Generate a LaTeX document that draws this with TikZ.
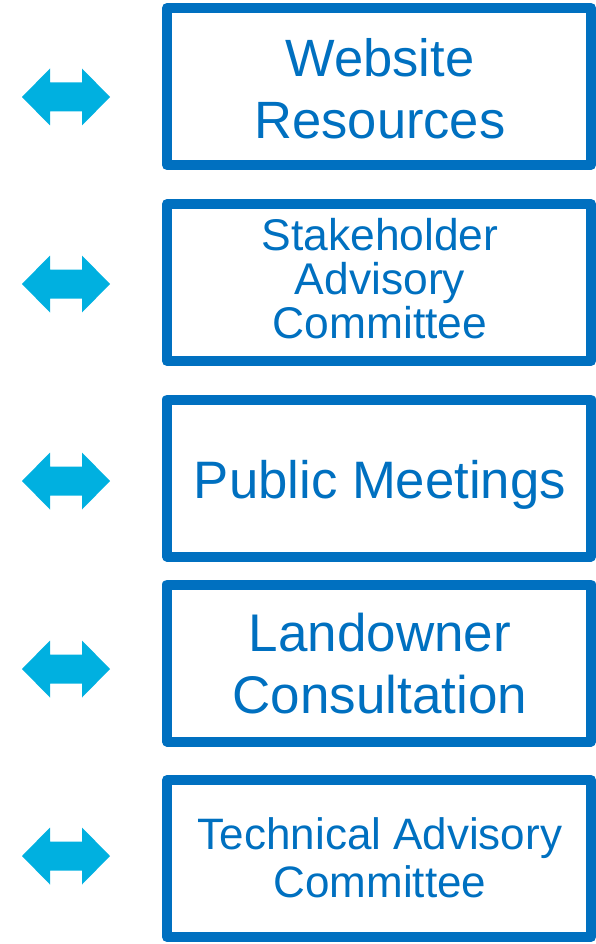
\documentclass[tikz,border=0pt]{standalone}
\usepackage{fontspec}
\setmainfont{Liberation Sans}
\definecolor{boxblue}{HTML}{0070C0}
\definecolor{arrowcyan}{HTML}{00B0E0}
\tikzset{
  x=1pt, y=1pt,
  chanbox/.style={draw=boxblue, line width=10pt, line join=round, minimum width=424pt, minimum height=157pt, inner sep=0pt},
  chantext/.style={text=boxblue, align=center, inner sep=0pt},
  dblarrow/.pic={
    \fill[arrowcyan] (-44,0) -- (-16,28.5) -- (-16,14.5) -- (16,14.5) -- (16,28.5) -- (44,0)
      -- (16,-28.5) -- (16,-14.5) -- (-16,-14.5) -- (-16,-28.5) -- cycle;
  }
}
\begin{document}
\begin{tikzpicture}
\useasboundingbox (0,0) rectangle (596,-944);
% boxes
\node[chanbox] (b1) at (379,-86.5) {};
\node[chanbox] (b2) at (379,-282.5) {};
\node[chanbox] (b3) at (379,-478) {};
\node[chanbox] (b4) at (379,-663) {};
\node[chanbox] (b5) at (379,-858.5) {};
% texts
\node[chantext, font=\fontsize{52.5}{62}\selectfont] (t1) at (380,-88.5) {Website\\Resources};
\node[chantext, font=\fontsize{44.4}{44}\selectfont] (t2) at (380,-279) {Stakeholder\\Advisory\\Committee};
\node[chantext, font=\fontsize{52.7}{60}\selectfont] (t3) at (380,-485) {Public Meetings};
\node[chantext, font=\fontsize{53}{62}\selectfont] (t4) at (380,-664) {Landowner\\Consultation};
\node[chantext, font=\fontsize{44}{48.5}\selectfont] (t5) at (380,-858) {Technical Advisory\\Committee};
% arrows
\pic (a1) at (66,-97) {dblarrow};
\pic (a2) at (66,-284) {dblarrow};
\pic (a3) at (66,-481) {dblarrow};
\pic (a4) at (66,-669) {dblarrow};
\pic (a5) at (66,-856) {dblarrow};
\end{tikzpicture}
\end{document}
